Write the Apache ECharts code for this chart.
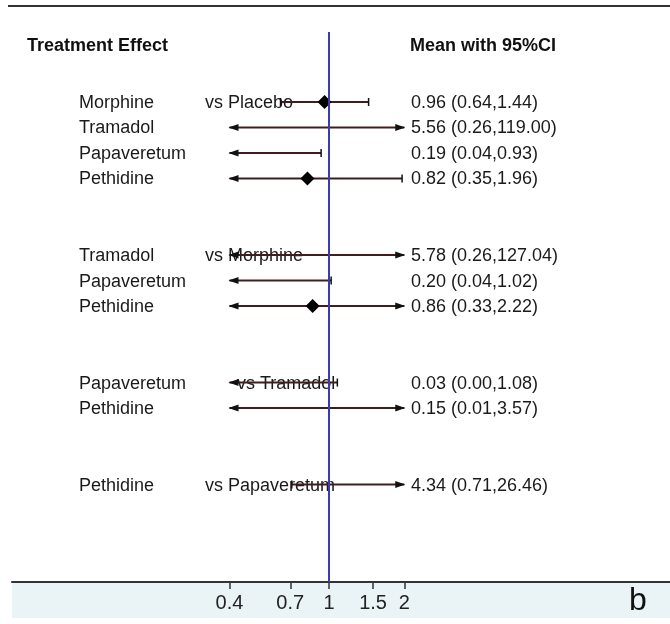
<!DOCTYPE html>
<html>
<head>
<meta charset="utf-8"/>
<title>Treatment Effect</title>
<script src="https://cdn.jsdelivr.net/npm/echarts@6/dist/echarts.min.js"></script>
<style>html,body{margin:0;padding:0;background:#fff}#main{width:670px;height:624px}</style>
</head>
<body>
<div id="main"></div>
<script>
// rows of the forest plot
const drugs = ['Morphine', 'Tramadol', 'Papaveretum', 'Pethidine', 'Tramadol', 'Papaveretum', 'Pethidine', 'Papaveretum', 'Pethidine', 'Pethidine']
const versus = ['vs Placebo', '', '', '', 'vs Morphine', '', '', 'vs Tramadol', '', 'vs Papaveretum']
const rowPos = [0, 1, 2, 3, 6, 7, 8, 11, 12, 15]
const mean = [0.96, 5.56, 0.19, 0.82, 5.78, 0.20, 0.86, 0.03, 0.15, 4.34]
const lower = [0.64, 0.26, 0.04, 0.35, 0.26, 0.04, 0.33, 0.00, 0.01, 0.71]
const upper = [1.44, 119.00, 0.93, 1.96, 127.04, 1.02, 2.22, 1.08, 3.57, 26.46]
const tickVals = [0.4, 0.7, 1, 1.5, 2]
const plotRange = [0.4, 2]

const FONT = '"Liberation Sans", Arial, sans-serif'
const LINE = '#3f1e1e'
const chart = echarts.init(document.getElementById('main'))

function renderItem(params, api) {
    const i = params.dataIndex
    const y = api.coord([1, rowPos[i]])[1]
    const lo = lower[i], hi = upper[i], m = mean[i]
    const x0 = api.coord([Math.max(lo, plotRange[0]), rowPos[i]])[0]
    const x1 = api.coord([Math.min(hi, plotRange[1]), rowPos[i]])[0]
    const txt = { fontFamily: FONT, fontSize: 18, fill: '#1a1a1a', textVerticalAlign: 'middle' }
    const kids = []
    kids.push({ type: 'text', style: Object.assign({ text: drugs[i], x: 79, y: y + 1 }, txt) })
    if (versus[i]) {
        const vx = versus[i] === 'vs Tramadol' ? 237 : 205
        kids.push({ type: 'text', style: Object.assign({ text: versus[i], x: vx, y: y + 1 }, txt) })
    }
    const label = m.toFixed(2) + ' (' + lo.toFixed(2) + ',' + hi.toFixed(2) + ')'
    kids.push({ type: 'text', style: Object.assign({ text: label, x: 411, y: y + 1 }, txt) })

    kids.push({ type: 'line', shape: { x1: x0, y1: y, x2: x1, y2: y }, style: { stroke: LINE, lineWidth: 2 } })
    if (lo < plotRange[0]) {
        kids.push({ type: 'polygon', shape: { points: [[x0 - 1, y], [x0 + 9, y - 3.5], [x0 + 9, y + 3.5]] }, style: { fill: '#111' } })
    } else {
        kids.push({ type: 'line', shape: { x1: x0, y1: y - 4, x2: x0, y2: y + 4 }, style: { stroke: '#111', lineWidth: 1.5 } })
    }
    if (hi > plotRange[1]) {
        kids.push({ type: 'polygon', shape: { points: [[x1 + 1, y], [x1 - 9, y - 3.5], [x1 - 9, y + 3.5]] }, style: { fill: '#111' } })
    } else {
        kids.push({ type: 'line', shape: { x1: x1, y1: y - 4, x2: x1, y2: y + 4 }, style: { stroke: '#111', lineWidth: 1.5 } })
    }
    if (m >= plotRange[0] && m <= plotRange[1]) {
        const xm = api.coord([m, rowPos[i]])[0]
        kids.push({ type: 'polygon', shape: { points: [[xm - 7, y], [xm, y - 7], [xm + 7, y], [xm, y + 7]] }, style: { fill: '#000' } })
    }
    return { type: 'group', children: kids }
}

const option = {
    animation: false,
    backgroundColor: '#fff',
    grid: { left: 12, right: 0, top: 32, bottom: 42 },
    xAxis: {
        type: 'log',
        min: 0.054,
        max: 23.1,
        splitLine: { show: false },
        axisLine: { show: true, onZero: false, lineStyle: { color: '#333', width: 2 } },
        axisTick: { show: true, customValues: tickVals, length: 7, lineStyle: { color: '#333', width: 1.5 } },
        axisLabel: { customValues: tickVals, fontFamily: FONT, fontSize: 20, color: '#222', margin: 11 },
        minorTick: { show: false }
    },
    yAxis: {
        type: 'value',
        inverse: true,
        min: -2.745,
        max: 18.82,
        show: false
    },
    graphic: [
        { type: 'rect', z: -10, shape: { x: 12, y: 582, width: 658, height: 36 }, style: { fill: '#eaf3f6' } },
        { type: 'line', shape: { x1: 8, y1: 6, x2: 670, y2: 6 }, style: { stroke: '#333', lineWidth: 2 } },
        { type: 'text', x: 27, y: 46, style: { text: 'Treatment Effect', fontFamily: FONT, fontWeight: 'bold', fontSize: 18, fill: '#111', verticalAlign: 'middle' } },
        { type: 'text', x: 410, y: 46, style: { text: 'Mean with 95%CI', fontFamily: FONT, fontWeight: 'bold', fontSize: 18, fill: '#111', verticalAlign: 'middle' } },
        { type: 'text', x: 629, y: 601, style: { text: 'b', fontFamily: FONT, fontSize: 32, fill: '#111', verticalAlign: 'middle' } }
    ],
    series: [{
        type: 'custom',
        renderItem: renderItem,
        data: mean.map((m, i) => [m, rowPos[i]]),
        encode: { x: 0, y: 1 },
        markLine: {
            silent: true,
            symbol: 'none',
            label: { show: false },
            lineStyle: { color: '#3b3bb0', width: 2, type: 'solid' },
            data: [{ xAxis: 1 }]
        }
    }]
}
chart.setOption(option)
</script>
</body>
</html>
